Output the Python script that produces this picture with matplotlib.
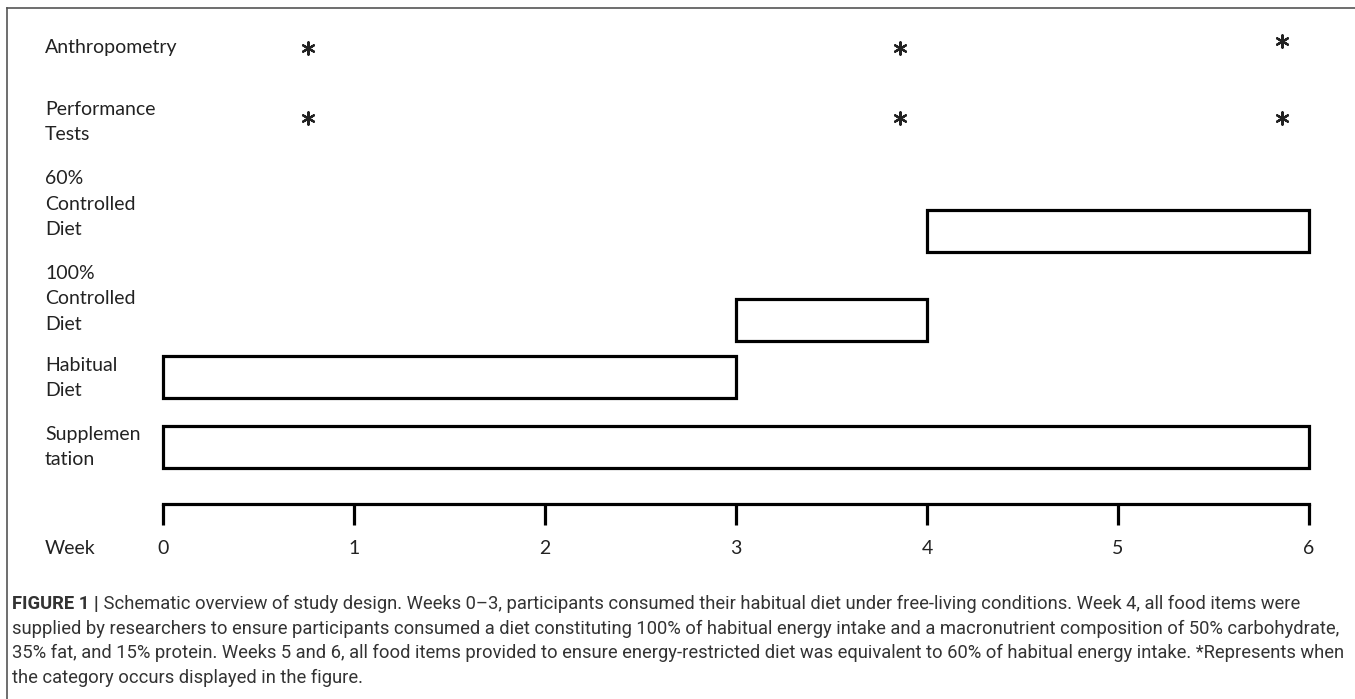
import matplotlib
matplotlib.use("Agg")
import matplotlib.pyplot as plt
from matplotlib.lines import Line2D

# rows of the schematic (left labels)
row_labels = ["Anthropometry", "Performance\nTests", "60%\nControlled\nDiet",
              "100%\nControlled\nDiet", "Habitual\nDiet", "Supplemen\ntation"]
weeks = [0, 1, 2, 3, 4, 5, 6]

# weeks where the assessments (*) happen
anthro_weeks = [0.76, 3.86, 5.86]
perf_weeks = [0.76, 3.86, 5.86]

# diet / supplement phases: row index, start week, end week
phase_rows = [2, 3, 4, 5]
phase_start = [4, 3, 0, 0]
phase_end = [6, 4, 3, 6]

caption_bold = "FIGURE 1 |"
caption_lines = [
    " Schematic overview of study design. Weeks 0\u20133, participants consumed their habitual diet under free-living conditions. Week 4, all food items were",
    "supplied by researchers to ensure participants consumed a diet constituting 100% of habitual energy intake and a macronutrient composition of 50% carbohydrate,",
    "35% fat, and 15% protein. Weeks 5 and 6, all food items provided to ensure energy-restricted diet was equivalent to 60% of habitual energy intake. *Represents when",
    "the category occurs displayed in the figure.",
]

W, H = 1355, 699
x0_px, px_week = 163, 191.0            # pixel of week 0 and pixels per week
label_y = [48, 122, 204, 299, 378, 447]  # centre of each label block (px from top)
box_y = [48, 118, 230.5, 319.5, 377, 447]  # centre of marks in each row
anthro_dy = [0, 0, -7]

fig = plt.figure(figsize=(W / 100, H / 100), dpi=100)
ax = fig.add_axes([0, 0, 1, 1])
ax.set_xlim(-x0_px / px_week, (W - x0_px) / px_week)
ax.set_ylim(H, 0)
ax.axis("off")

def px(x):
    return (x - x0_px) / px_week

lab_font = dict(family=["Lato", "DejaVu Sans"], fontsize=14, color="#222222")

for lab, y in zip(row_labels, label_y):
    ax.text(px(45), y, lab, ha="left", va="center", linespacing=1.62, **lab_font)

# asterisks
ax.scatter(anthro_weeks, [box_y[0] + d for d in anthro_dy], marker=(6, 2, 0),
           s=80, color="#222222", linewidths=1.6)
ax.scatter(perf_weeks, [box_y[1]] * len(perf_weeks), marker=(6, 2, 0),
           s=80, color="#222222", linewidths=1.6)

# phase boxes
for r, s, e in zip(phase_rows, phase_start, phase_end):
    ax.barh(box_y[r], e - s, left=s, height=42, fill=False,
            edgecolor="black", linewidth=2.3)

# week axis
axis_y, tick_len = 504, 21
ax.plot([weeks[0], weeks[-1]], [axis_y, axis_y], color="black", lw=2.3,
        solid_capstyle="projecting")
ax.vlines(weeks, axis_y, axis_y + tick_len, color="black", lw=2.3)
for w in weeks:
    ax.text(w, 548, str(w), ha="center", va="center", **lab_font)
ax.text(px(45), 548, "Week", ha="left", va="center", **lab_font)

# border
bc = "#555555"
fig.add_artist(Line2D([7 / W, 7 / W], [0, 1 - 8 / H], color=bc, lw=1.2))
fig.add_artist(Line2D([7 / W, 1], [1 - 8 / H, 1 - 8 / H], color=bc, lw=1.2))

# caption
cap_font = dict(family=["Roboto", "DejaVu Sans"], fontsize=13.2, color="#333333")
first_y, line_gap = 604, 24.6
tb = fig.text(12 / W, 1 - first_y / H, caption_bold, ha="left", va="center",
              fontweight="bold", **cap_font)
ax.annotate(caption_lines[0], xy=(1, 0), xycoords=tb, ha="left", va="bottom", **cap_font)
for i, line in enumerate(caption_lines[1:], start=1):
    fig.text(12 / W, 1 - (first_y + i * line_gap) / H, line, ha="left", va="center", **cap_font)

fig.savefig("out.png", dpi=100)
